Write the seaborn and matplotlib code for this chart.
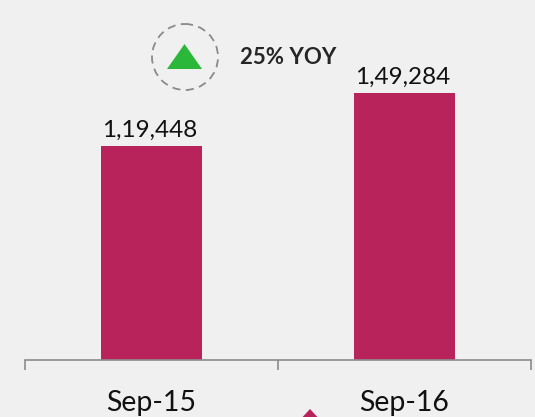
import matplotlib
matplotlib.use('Agg')
import matplotlib.pyplot as plt
from matplotlib.patches import Circle, Polygon
from matplotlib.transforms import Affine2D
import pandas as pd
import seaborn as sns

periods = ['Sep-15', 'Sep-16']
values = [119448, 149284]
value_labels = ['1,19,448', '1,49,284']
growth_label = '25% YOY'

W, H = 535, 417
BG = '#f0f0f0'
BAR = '#b7235a'
AXIS = '#8c8c8c'

sns.set_theme(style='white')
plt.rcParams['font.family'] = ['Lato', 'DejaVu Sans']

df = pd.DataFrame({'period': periods, 'value': values})

fig = plt.figure(figsize=(W / 100, H / 100), dpi=100, facecolor=BG)
ax = fig.add_axes([25 / W, (H - 360) / H, (531 - 25) / W, 360 / H], facecolor='none')
sns.barplot(data=df, x='period', y='value', color=BAR, saturation=1, width=0.4, linewidth=0, ax=ax)

ax.set_xlim(-0.5, 1.5)
ax.set_ylim(0, 200940)
ax.set_xlabel('')
ax.set_ylabel('')
ax.set_yticks([])
sns.despine(ax=ax, left=True, top=True, right=True)
ax.spines['bottom'].set_color(AXIS)
ax.spines['bottom'].set_linewidth(1.2)

# separators sit between the categories, labels stay centred
ax.set_xticks([-0.5, 0.5, 1.5], minor=True)
ax.tick_params(axis='x', which='minor', length=7.5, width=1.2, color=AXIS, direction='out', bottom=True)
ax.tick_params(axis='x', which='major', length=0, pad=21.5, labelsize=20.5, labelcolor='#111111')

for i, v in enumerate(values):
    ax.annotate(value_labels[i], (i, v), xytext=(-1, 3.5), textcoords='offset points',
                ha='center', va='bottom', fontsize=17.5, color='#111111')

# overlay in pixel coordinates, origin top left
px = Affine2D().scale(1, -1).translate(0, H).scale(1 / W, 1 / H) + fig.transFigure
fig.add_artist(Circle((185, 57), 33, transform=px, fill=False, ec='#8a8a8a', lw=1.3, ls=(0, (4.5, 3))))
fig.add_artist(Polygon([(167, 69), (202, 69), (184.5, 44)], transform=px, fc='#2bb83a', ec='none'))
fig.add_artist(Polygon([(298, 422), (322, 422), (310, 409)], transform=px, fc=BAR, ec='none'))
fig.text(288 / W, 1 - 57 / H, growth_label, ha='center', va='center', fontsize=16,
         fontweight='bold', color='#262626')

fig.savefig('out.png', dpi=100, facecolor=BG)
